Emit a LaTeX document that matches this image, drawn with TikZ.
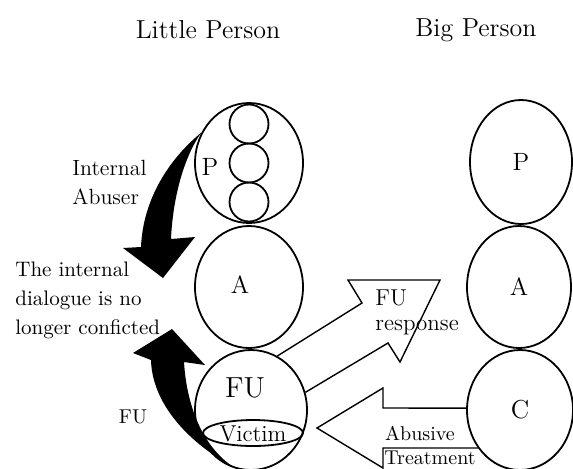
\documentclass[tikz,border=0pt]{standalone}
\usepackage{tikz}
\usetikzlibrary{shapes.geometric}
\begin{document}
\begin{tikzpicture}[x=0.5pt,y=-0.5pt,
  oval/.style={draw,ellipse,line width=0.9pt,inner sep=0pt},
  bubble/.style={draw,circle,line width=0.9pt,inner sep=0pt,minimum size=19.5pt},
  blockarrow/.style={draw,line width=0.7pt,line join=miter},
  txt/.style={inner sep=0pt,font=\fontsize{11}{13}\selectfont},
  bigtxt/.style={inner sep=0pt,font=\fontsize{12.5}{14}\selectfont}]
\useasboundingbox (0,0) rectangle (573,468);

\node[txt,font=\fontsize{13}{15}\selectfont] (little) at (208,30) {Little Person};
\node[txt,font=\fontsize{13}{15}\selectfont] (big) at (476,30) {Big Person};

\node[oval,minimum width=54pt,minimum height=60pt] (pL) at (249,163) {};
\node[bubble] (b1) at (249,124) {};
\node[bubble] (b2) at (249,163) {};
\node[bubble] (b3) at (249,202) {};
\node[oval,minimum width=54pt,minimum height=61pt] (aL) at (249,287) {};
\node[oval,minimum width=56pt,minimum height=60pt] (fuL) at (251,410) {};
\node[oval,minimum width=50pt,minimum height=13pt] (victim) at (253,433) {};

\node[bigtxt] (pLtxt) at (210,167) {P};
\node[bigtxt] (aLtxt) at (240,285) {A};
\node[bigtxt,font=\fontsize{14.5}{16}\selectfont] (fuLtxt) at (245,388) {FU};
\node[txt,font=\fontsize{11.5}{13}\selectfont] (victimtxt) at (253,434) {Victim};

\node[oval,bigtxt,minimum width=51pt,minimum height=62pt] (pR) at (521,162) {P};
\node[oval,bigtxt,minimum width=52pt,minimum height=61pt] (aR) at (519,287) {A};
\node[oval,bigtxt,font=\fontsize{13}{15}\selectfont,minimum width=53pt,minimum height=60pt] (cR) at (520,410) {C};

\fill (pL.147) .. controls (168,160) and (143,200) .. (141,247) -- (123,248) -- (163,278)
  -- (195,237) -- (171,239) .. controls (173,195) and (185,155) .. (pL.147);
\fill (fuL.256) .. controls (183,440) and (152,400) .. (151,360) -- (133,353) -- (172,329)
  -- (205,365) -- (184,362) .. controls (187,410) and (205,450) .. (fuL.256);

\draw[blockarrow] (fuL.64) -- (362,303) -- (348,280) -- (440,280) -- (400,362) -- (388,343) -- (fuL.18);
\draw[blockarrow] (cR.178) -- (383,408) -- (383,388) -- (317,428) -- (383,468) -- (383,448) -- (cR.222);

\node[txt,anchor=west] (abuser) at (72,168) {Internal};
\node[txt,anchor=west] (abuser2) at (72,197) {Abuser};
\node[txt,anchor=west,align=left,font=\fontsize{10.5}{14.5}\selectfont] (dialogue) at (15,300)
  {The internal\\dialogue is no\\longer conficted};
\node[txt,font=\fontsize{10}{12}\selectfont] (fuleft) at (133,417) {FU};

\node[txt,anchor=west,font=\fontsize{11.5}{13}\selectfont] (fuR) at (375,298) {FU};
\node[txt,anchor=west,font=\fontsize{11.5}{13}\selectfont] (resp) at (375,328) {response};
\node[txt,font=\fontsize{10}{12}\selectfont] (abus) at (420,433) {Abusive};
\node[txt,font=\fontsize{10}{12}\selectfont] (treat) at (430,458) {Treatment};
\end{tikzpicture}
\end{document}
